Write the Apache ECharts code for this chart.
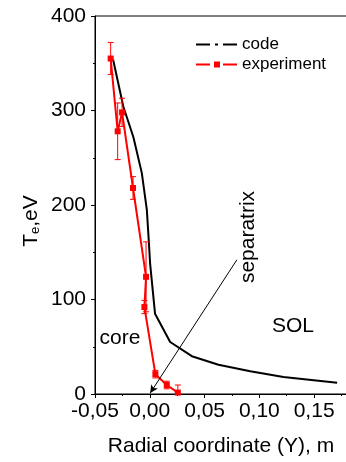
<!DOCTYPE html>
<html>
<head>
<meta charset="utf-8">
<script src="https://cdn.jsdelivr.net/npm/echarts@6/dist/echarts.min.js"></script>
<style>
html, body { margin: 0; padding: 0; background: #fff; }
#chart { width: 346px; height: 462px; }
</style>
</head>
<body>
<div id="chart"></div>
<script>
// code curve
var codeX = [-0.0335, -0.0241, -0.015, -0.0073, -0.0027, -0.0008, 0.0003, 0.0048, 0.0186, 0.0384, 0.0627, 0.0917, 0.122, 0.171];
var codeY = [354, 304, 272, 234, 195, 160, 138, 85, 55, 40, 31, 24, 18, 12];

// experiment points with error bars
var expX = [-0.0357, -0.0293, -0.0253, -0.0153, -0.0034, -0.0049, 0.0051, 0.0155, 0.0256];
var expY = [355, 278, 298, 218, 124, 92, 21, 9.5, 1.5];
var expErr = [17, 30, 15, 12, 37, 7, 4, 4, 8];

// separatrix arrow: from -> to
var arrowFrom = [0.0795, 142];
var arrowTo = [0.0004, 1];

var FONT = '"Liberation Sans", Arial, sans-serif';

var myChart = echarts.init(document.getElementById('chart'));

var option = {
    animation: false,
    grid: {
        left: 95, top: 16, width: 252, height: 378,
        outerBoundsMode: 'none',
        containLabel: false,
        show: true, borderColor: '#000', borderWidth: 1
    },
    legend: {
        orient: 'vertical',
        left: 191, top: 31,
        itemGap: 3,
        itemWidth: 41, itemHeight: 6,
        textStyle: { fontFamily: FONT, fontSize: 17, color: '#000' },
        data: [
            { name: 'code', icon: 'path://M0,2h14v2h-14z M19,2h3v2h-3z M27,2h14v2h-14z' },
            { name: 'experiment', icon: 'path://M0,2h14v2h-14z M18,0h6v6h-6z M27,2h14v2h-14z' }
        ]
    },
    xAxis: {
        type: 'value',
        min: -0.05, max: 0.18, interval: 0.05,
        name: 'Radial coordinate (Y), m',
        nameLocation: 'middle', nameGap: 42,
        nameTextStyle: { fontFamily: FONT, fontSize: 21, color: '#000' },
        axisLine: { onZero: false, lineStyle: { color: '#000', width: 1 } },
        axisTick: { inside: false, length: 4, lineStyle: { color: '#000' } },
        minorTick: { show: true, splitNumber: 2, length: 2, lineStyle: { color: '#000' } },
        splitLine: { show: false },
        axisLabel: {
            margin: 7, showMaxLabel: false,
            fontFamily: FONT, fontSize: 21, color: '#000',
            formatter: function (v) { return v.toFixed(2).replace('.', ','); }
        }
    },
    yAxis: {
        type: 'value',
        min: 0, max: 400, interval: 100,
        axisLine: { show: true, onZero: false, lineStyle: { color: '#000', width: 1 } },
        axisTick: { show: true, inside: false, length: 4, lineStyle: { color: '#000' } },
        minorTick: { show: true, splitNumber: 2, length: 2, lineStyle: { color: '#000' } },
        splitLine: { show: false },
        axisLabel: { margin: 9, fontFamily: FONT, fontSize: 21, color: '#000' }
    },
    series: [
        {
            name: 'code',
            type: 'line',
            data: codeX.map(function (x, i) { return [x, codeY[i]]; }),
            showSymbol: false,
            color: '#000',
            lineStyle: { color: '#000', width: 2 },
            z: 2,
            markLine: {
                silent: true,
                symbol: ['none', 'arrow'],
                symbolSize: [6, 8],
                lineStyle: { color: '#000', width: 1, type: 'solid' },
                label: { show: false },
                data: [[{ coord: arrowFrom }, { coord: arrowTo }]]
            }
        },
        {
            name: 'experiment',
            type: 'line',
            data: expX.map(function (x, i) { return [x, expY[i]]; }),
            symbol: 'rect',
            symbolSize: 6,
            color: '#f00',
            itemStyle: { color: '#f00' },
            lineStyle: { color: '#f00', width: 2 },
            z: 4
        },
        {
            name: 'errbars',
            type: 'custom',
            clip: true,
            z: 3,
            data: expX.map(function (x, i) { return [x, expY[i], expErr[i]]; }),
            renderItem: function (params, api) {
                var x = api.value(0), y = api.value(1), e = api.value(2);
                var top = api.coord([x, y + e]);
                var bot = api.coord([x, y - e]);
                var w = 3;
                var st = { stroke: '#f00', lineWidth: 1 };
                return {
                    type: 'group',
                    children: [
                        { type: 'line', shape: { x1: top[0], y1: top[1], x2: bot[0], y2: bot[1] }, style: st },
                        { type: 'line', shape: { x1: top[0] - w, y1: top[1], x2: top[0] + w, y2: top[1] }, style: st },
                        { type: 'line', shape: { x1: bot[0] - w, y1: bot[1], x2: bot[0] + w, y2: bot[1] }, style: st }
                    ]
                };
            }
        }
    ],
    graphic: [
        {
            type: 'text', x: 27, y: 221, rotation: Math.PI / 2,
            style: {
                text: '{a|T}{b|e}{a|,eV}',
                align: 'center', verticalAlign: 'middle',
                rich: {
                    a: { fontFamily: FONT, fontSize: 21, color: '#000', lineHeight: 30, verticalAlign: 'bottom' },
                    b: { fontFamily: FONT, fontSize: 13, color: '#000', lineHeight: 22, verticalAlign: 'bottom' }
                }
            }
        },
        {
            type: 'text', x: 120, y: 338,
            style: { text: 'core', fontFamily: FONT, fontSize: 21, fill: '#000', align: 'center', verticalAlign: 'middle' }
        },
        {
            type: 'text', x: 293, y: 326,
            style: { text: 'SOL', fontFamily: FONT, fontSize: 21, fill: '#000', align: 'center', verticalAlign: 'middle' }
        },
        {
            type: 'text', x: 248, y: 237, rotation: Math.PI / 2,
            style: { text: 'separatrix', fontFamily: FONT, fontSize: 21, fill: '#000', align: 'center', verticalAlign: 'middle' }
        }
    ]
};

myChart.setOption(option);
</script>
</body>
</html>
